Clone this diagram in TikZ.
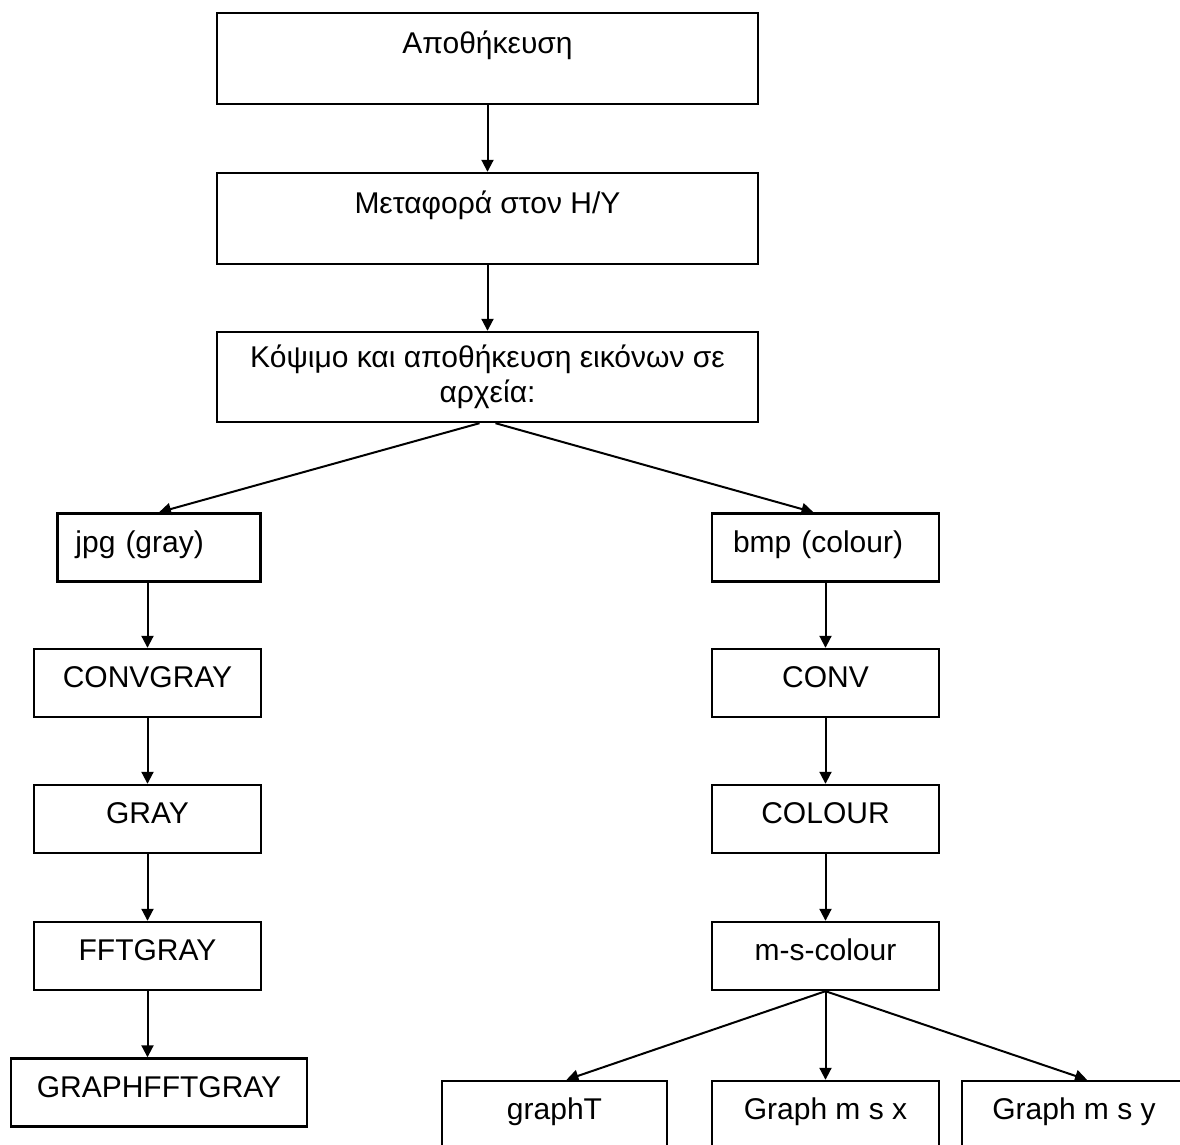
\documentclass[tikz,border=0pt]{standalone}
\usepackage{fontspec}
\setmainfont{Liberation Sans}
\usepackage{tikz}
\usetikzlibrary{arrows.meta, positioning}

\tikzset{
  box/.style={draw, line width=1.2pt, inner sep=0pt, font=\fontsize{15pt}{17.5pt}\selectfont},
  stepbox/.style={box, minimum width=113.5pt, minimum height=34pt, text height=10.7pt, text depth=6pt},
  topbox/.style={box, minimum width=270.5pt, minimum height=45.5pt, text height=10.7pt, text depth=15.5pt},
  flow/.style={-{Triangle[length=6pt, width=6pt]}, line width=1pt},
}

\begin{document}
\begin{tikzpicture}[x=0.5pt, y=-0.5pt]
  \useasboundingbox (0,0) rectangle (1180,1145);
  \clip (0,0) rectangle (1180,1145);

  % Top chain
  \node[topbox] (store) at (487.5,58.5) {Αποθήκευση};
  \node[topbox] (transfer) at (487.5,218.5) {Μεταφορά στον Η/Υ};
  \node[box, minimum width=270.5pt, minimum height=45pt, align=center, text depth=3pt] (cut) at (487.5,377) {Κόψιμο και αποθήκευση εικόνων σε\\αρχεία:};

  % Gray branch
  \node[stepbox, minimum width=101.5pt, text width=83.5pt, inner xsep=9pt, align=left] (jpg) at (159,547.5) {jpg (gray)};
  \node[stepbox] (cgray) at (147.5,683) {CONVGRAY};
  \node[stepbox] (gray) at (147.5,819) {GRAY};
  \node[stepbox] (fftgray) at (147.5,956) {FFTGRAY};
  \node[stepbox, minimum width=148pt] (graphfft) at (159,1092.5) {GRAPHFFTGRAY};

  % Colour branch
  \node[stepbox, text width=92.5pt, inner xsep=10.5pt, align=left] (bmp) at (825.5,547.5) {bmp (colour)};
  \node[stepbox] (conv) at (825.5,683) {CONV};
  \node[stepbox] (colour) at (825.5,819) {COLOUR};
  \node[stepbox] (mscolour) at (825.5,956) {m-s-colour};

  % Graphs
  \node[stepbox, minimum width=112.5pt] (graphT) at (554.5,1115) {graphT};
  \node[stepbox] (gmsx) at (825.5,1115) {Graph m s x};
  \node[stepbox, minimum width=112pt] (gmsy) at (1074,1115) {Graph m s y};

  % Connectors
  \draw[flow] (store) -- (transfer);
  \draw[flow] (transfer) -- (cut);
  \draw[flow] ([xshift=-4pt]cut.south) -- (jpg.north);
  \draw[flow] ([xshift=4pt]cut.south) -- ([xshift=-6pt]bmp.north);

  \draw[flow] (jpg.south -| cgray.north) -- (cgray.north);
  \draw[flow] (cgray) -- (gray);
  \draw[flow] (gray) -- (fftgray);
  \draw[flow] (fftgray.south) -- (fftgray.south |- graphfft.north);

  \draw[flow] (bmp) -- (conv);
  \draw[flow] (conv) -- (colour);
  \draw[flow] (colour) -- (mscolour);
  \draw[flow] (mscolour.south) -- ([xshift=6pt]graphT.north);
  \draw[flow] (mscolour) -- (gmsx);
  \draw[flow] (mscolour.south) -- ([xshift=6.5pt]gmsy.north);
\end{tikzpicture}
\end{document}
